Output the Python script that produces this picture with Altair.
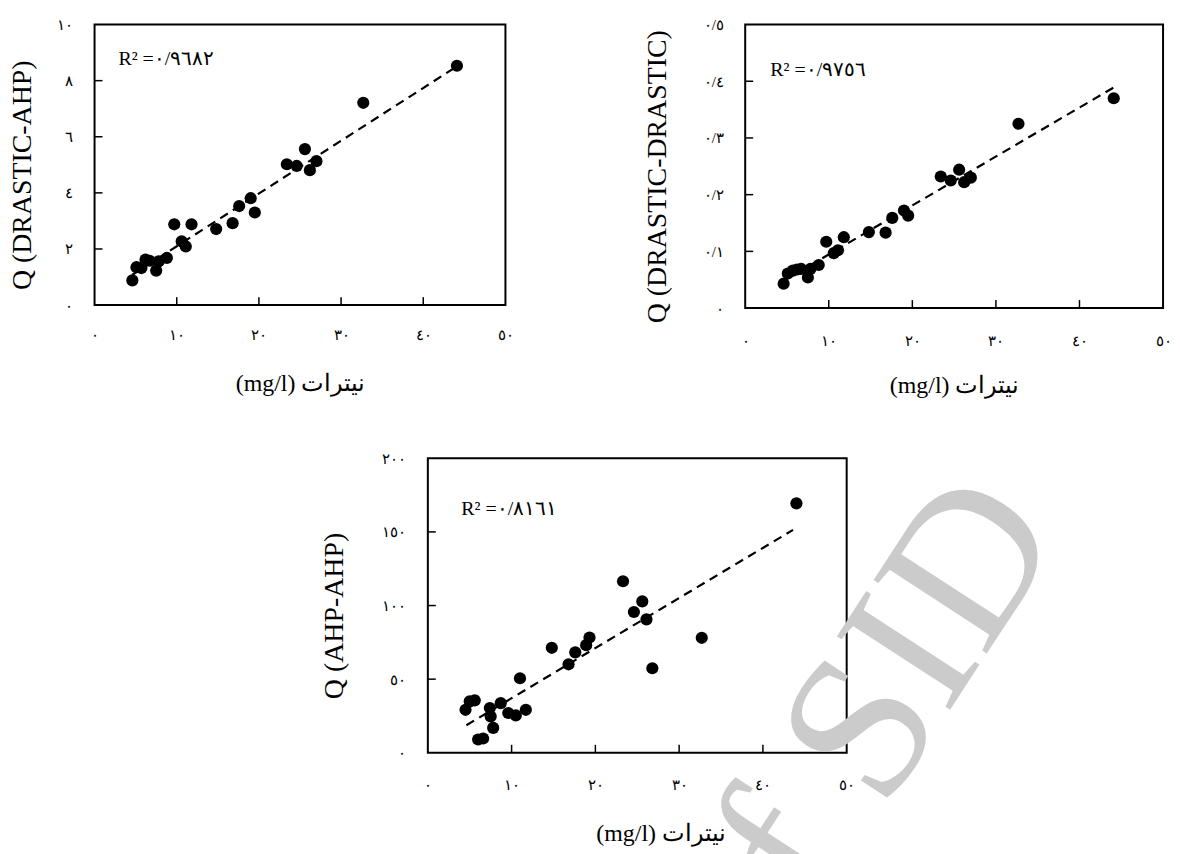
import altair as alt
import pandas as pd

# ---------------- data ----------------
nitrate = [4.6, 5.1, 5.7, 6.2, 6.7, 7.5, 7.8, 8.8, 9.7, 10.6, 11.1, 11.8,
           14.8, 16.8, 17.6, 19.0, 19.5, 23.4, 24.6, 25.6, 26.2, 27.0, 32.7, 44.1]
q_drastic_ahp = [0.88, 1.35, 1.32, 1.62, 1.58, 1.23, 1.56, 1.68, 2.88, 2.27, 2.09, 2.88,
                 2.71, 2.92, 3.53, 3.81, 3.30, 5.02, 4.96, 5.56, 4.81, 5.13, 7.21, 8.53]
q_drastic_drastic = [0.043, 0.061, 0.066, 0.068, 0.069, 0.054, 0.069, 0.076, 0.117, 0.097,
                     0.102, 0.125, 0.134, 0.133, 0.159, 0.172, 0.163, 0.232, 0.225, 0.244,
                     0.222, 0.230, 0.325, 0.370]
nitrate_ahp = [4.5, 5.0, 5.6, 6.0, 6.6, 7.4, 7.5, 7.8, 8.7, 9.6, 10.5, 11.0, 11.7,
               14.8, 16.8, 17.6, 18.9, 19.3, 23.3, 24.6, 25.6, 26.1, 26.8, 32.7, 44.0]
q_ahp_ahp = [29.2, 34.9, 35.6, 9.0, 9.7, 30.4, 24.7, 16.9, 33.7, 27.0, 25.4, 50.6, 29.2,
             71.3, 60.1, 68.2, 73.1, 78.3, 116.5, 95.6, 102.8, 90.6, 57.4, 78.1, 169.4]

# trend lines (end points)
trend1_x = [4.6, 44.1]
trend1_y = [1.08, 8.51]
trend2_x = [4.6, 44.1]
trend2_y = [0.048, 0.389]
trend3_x = [4.6, 43.6]
trend3_y = [18.7, 151.4]

# axis ticks and their labels
x_ticks = [0, 10, 20, 30, 40, 50]
x_tick_labels = ["٠", "١٠", "٢٠", "٣٠", "٤٠", "٥٠"]
y1_ticks = [0, 2, 4, 6, 8, 10]
y1_tick_labels = ["٠", "٢", "٤", "٦", "٨", "١٠"]
y2_ticks = [0, 0.1, 0.2, 0.3, 0.4, 0.5]
y2_tick_labels = ["٠", "٠/١", "٠/٢", "٠/٣", "٠/٤", "٠/٥"]
y3_ticks = [0, 50, 100, 150, 200]
y3_tick_labels = ["٠", "٥٠", "١٠٠", "١٥٠", "٢٠٠"]

# annotation texts and their anchor in data units
r2_texts = ["R² =٠/٩٦٨٢", "R² =٠/٩٧٥٦", "R² =٠/٨١٦١"]
r2_x = [2.9, 3.0, 4.0]
r2_y = [8.78, 0.42, 165.3]

x_title = "(mg/l) نیترات"
y_titles = ["Q (DRASTIC-AHP)", "Q (DRASTIC-DRASTIC)", "Q (AHP-AHP)"]
watermark = ["of SID"]

SERIF = "Liberation Serif"


def label_expr(values, labels):
    parts = [f"datum.value == {v} ? '{l}'" for v, l in zip(values, labels)]
    return " : ".join(parts) + " : ''"


def panel(xs, ys, tx, ty, yticks, ylabels, ydomain, r2, rx, ry, ytitle,
          width, height, ytitle_x, xlab_pad, xtitle_y, xtitle_x=None, mark=False):
    pts = pd.DataFrame({"x": xs, "y": ys})
    trend = pd.DataFrame({"x": tx, "y": ty})
    xt = pd.DataFrame({"t": x_ticks[1:-1]})
    yt = pd.DataFrame({"t": yticks[1:-1]})
    ann = pd.DataFrame({"x": [rx], "y": [ry], "label": [r2]})

    xaxis_kw = dict(values=x_ticks, labelExpr=label_expr(x_ticks, x_tick_labels),
                    ticks=False, domain=False, grid=False, labelPadding=xlab_pad,
                    labelFlush=False, labelOverlap=False,
                    labelBaseline="middle", labelFontSize=15, labelFont=SERIF,
                    labelColor="black", title=x_title, titleFont=SERIF,
                    titleFontSize=24, titleFontWeight="normal", titleColor="black",
                    titleY=xtitle_y, titleBaseline="middle")
    if xtitle_x is not None:
        xaxis_kw["titleX"] = xtitle_x
    xscale = alt.Scale(domain=[0, 50], nice=False, zero=False)
    yscale = alt.Scale(domain=ydomain, nice=False, zero=False)
    X = alt.X("x:Q", scale=xscale, axis=alt.Axis(**xaxis_kw))
    Y = alt.Y("y:Q", scale=yscale,
              axis=alt.Axis(values=yticks, labelExpr=label_expr(yticks, ylabels),
                            ticks=False, domain=False, grid=False, labelPadding=22,
                            labelFlush=False, labelOverlap=False,
                            labelFontSize=15, labelFont=SERIF, labelColor="black",
                            title=ytitle, titleFont=SERIF, titleFontSize=28,
                            titleFontWeight="normal", titleColor="black",
                            titleX=ytitle_x, titleY=height / 2 + 10,
                            titleBaseline="middle"))

    points = alt.Chart(pts).mark_circle(size=150, color="black", opacity=1).encode(x=X, y=Y)
    line = alt.Chart(trend).mark_line(color="black", strokeWidth=2.2,
                                      strokeDash=[9, 6]).encode(x="x:Q", y="y:Q")
    xtick = alt.Chart(xt).mark_rule(color="black", strokeWidth=1.5).encode(
        x="t:Q", y=alt.value(height), y2=alt.value(height - 8))
    ytick = alt.Chart(yt).mark_rule(color="black", strokeWidth=1.5).encode(
        y="t:Q", x=alt.value(0), x2=alt.value(8))
    text = alt.Chart(ann).mark_text(align="left", baseline="middle", font=SERIF,
                                    fontSize=20, color="black").encode(
        x="x:Q", y="y:Q", text="label:N")
    layers = [line, points, xtick, ytick, text]
    if mark:
        wm = alt.Chart(pd.DataFrame({"w": watermark})).mark_text(
            align="center", baseline="middle", font=SERIF, fontSize=207,
            angle=303, color="#cbcbcb").encode(
            x=alt.value(436), y=alt.value(276), text="w:N")
        layers.append(wm)
    return alt.layer(*layers).properties(width=width, height=height)


p1 = panel(nitrate, q_drastic_ahp, trend1_x, trend1_y, y1_ticks, y1_tick_labels, [0, 10],
           r2_texts[0], r2_x[0], r2_y[0], y_titles[0], 413, 282, -72, 30, 79)
p2 = panel(nitrate, q_drastic_drastic, trend2_x, trend2_y, y2_ticks, y2_tick_labels, [0, 0.5],
           r2_texts[1], r2_x[1], r2_y[1], y_titles[1], 420, 285, -88, 33, 78)
p3 = panel(nitrate_ahp, q_ahp_ahp, trend3_x, trend3_y, y3_ticks, y3_tick_labels, [0, 200],
           r2_texts[2], r2_x[2], r2_y[2], y_titles[2], 421, 296, -94, 32, 81, 234, mark=True)

spacer = alt.Chart(pd.DataFrame({"v": [0]})).mark_point(opacity=0).encode(
    x=alt.X("v:Q", axis=None), y=alt.Y("v:Q", axis=None)
).properties(width=226, height=1, view=alt.ViewBackground(strokeOpacity=0))

top = alt.hconcat(p1, p2, spacing=128)
bottom = alt.hconcat(spacer, p3, spacing=0)
chart = alt.vconcat(top, bottom, spacing=44).properties(
    padding={"left": 0, "top": 6, "right": 0, "bottom": 0},
    background="white"
).configure_view(stroke="black", strokeWidth=2)

chart.save("out.html", embed_options={"renderer": "svg", "actions": False})
